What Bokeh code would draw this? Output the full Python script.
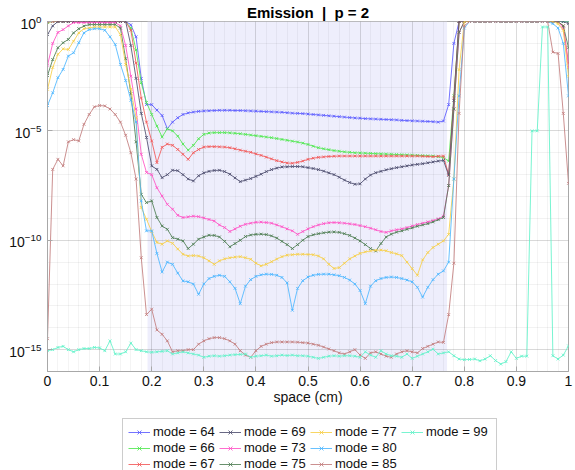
import numpy as np
from bokeh.plotting import figure
from bokeh.layouts import column
from bokeh.models import (BoxAnnotation, FixedTicker, Legend, LegendItem,
                          CustomJSTickFormatter, Range1d)
from bokeh.embed import file_html
from bokeh.resources import INLINE

# ---------------- data (log10 of emission) ----------------
x_vals = np.round(np.linspace(0, 1, 101), 2)

modes = [64, 66, 67, 69, 73, 75, 77, 80, 85, 99]

log_m64 = ([0.0] * 16 +
           [-0.15, -0.7, -2.6, -3.8, -3.8, -4.05, -4.3, -4.9, -4.6, -4.4, -4.25, -4.18, -4.14, -4.11, -4.09] +
           [-4.08, -4.07, -4.06, -4.06, -4.06, -4.07, -4.07, -4.08, -4.09, -4.1] +
           [-4.11, -4.12, -4.13, -4.14, -4.15, -4.17, -4.19, -4.2, -4.21, -4.23] +
           [-4.25, -4.27, -4.29, -4.31, -4.33, -4.35, -4.37, -4.39, -4.41, -4.42] +
           [-4.44, -4.45, -4.46, -4.47, -4.48, -4.49, -4.5, -4.52, -4.53, -4.54] +
           [-4.55, -4.56, -4.57, -4.58, -4.6, -4.55] +
           [-3.8, -1.0] + [0.0] * 22)

log_m66 = ([-0.05] + [0.0] * 15 +
           [-0.3, -1.3, -2.8, -3.7, -4.25, -4.78, -5.28, -4.9, -5.0, -5.24, -5.6, -5.88, -5.66, -5.36, -5.16] +
           [-5.1, -5.08, -5.08, -5.08, -5.09, -5.11, -5.13, -5.16, -5.19, -5.22] +
           [-5.25, -5.28, -5.31, -5.35, -5.39, -5.43, -5.47, -5.51, -5.56, -5.62] +
           [-5.7, -5.77, -5.82, -5.86, -5.9, -5.93, -5.96, -5.98, -6.0, -6.01] +
           [-6.02, -6.03, -6.04, -6.05, -6.06, -6.07, -6.08, -6.09, -6.1, -6.11] +
           [-6.12, -6.13, -6.14, -6.15, -6.18, -6.22] +
           [-6.38, -3.4] + [0.0] * 22)

log_m67 = ([-0.02] + [0.0] * 15 +
           [-0.4, -1.9, -3.5, -4.6, -5.46, -6.45, -5.75, -5.6, -5.66, -5.85, -6.07, -6.3, -6.0, -5.85, -5.74] +
           [-5.72, -5.72, -5.73, -5.74, -5.77, -5.82, -5.88, -5.93, -5.98, -6.05] +
           [-6.12, -6.2, -6.28, -6.36, -6.42, -6.47, -6.48, -6.44, -6.38, -6.3] +
           [-6.25, -6.21, -6.19, -6.17, -6.16, -6.15, -6.15, -6.15, -6.15, -6.15] +
           [-6.15, -6.15, -6.15, -6.15, -6.15, -6.15, -6.15, -6.15, -6.15, -6.15] +
           [-6.15, -6.16, -6.17, -6.18, -6.16, -6.15] +
           [-7.0, -3.5] + [0.0] * 20 + [-0.2, -1.9])

log_m69 = ([-0.6, -0.2] + [0.0] * 14 +
           [-1.1, -2.6, -4.2, -5.3, -6.6, -6.76, -7.14, -7.0, -6.8, -6.82, -7.0, -7.2, -7.29, -7.05, -6.92] +
           [-6.85, -6.81, -6.8, -6.86, -6.98, -7.15, -7.32, -7.25, -7.18, -7.08] +
           [-6.98, -6.86, -6.77, -6.7, -6.65, -6.64, -6.63, -6.63, -6.64, -6.68] +
           [-6.72, -6.77, -6.84, -6.92, -7.0, -7.12, -7.25, -7.36, -7.44, -7.42] +
           [-7.2, -7.02, -6.91, -6.85, -6.78, -6.73, -6.68, -6.64, -6.6, -6.56] +
           [-6.53, -6.5, -6.46, -6.42, -6.38, -6.35] +
           [-7.03, -3.6] + [0.0] * 21 + [-0.1])

log_m73 = ([-2.0, -1.0, -0.5, -0.37, -0.2] + [-0.05] * 9 +
           [-0.2, -1.1, -2.5, -4.0, -6.07, -6.9, -7.0, -7.6, -7.98, -8.36, -8.58, -8.86, -8.96, -8.93, -8.9, -8.92, -8.98] +
           [-9.05, -9.12, -9.3, -9.42, -9.6, -9.48, -9.36, -9.27, -9.22, -9.18] +
           [-9.17, -9.19, -9.22, -9.3, -9.38, -9.48, -9.57, -9.73, -9.6, -9.48] +
           [-9.38, -9.3, -9.24, -9.2, -9.19, -9.2, -9.22, -9.25, -9.28, -9.33] +
           [-9.38, -9.45, -9.52, -9.6, -9.64, -9.57, -9.52, -9.48, -9.42, -9.35] +
           [-9.28, -9.22, -9.16, -9.1, -9.02, -8.9] +
           [-7.5, -4.0, -0.5] + [0.0] * 19 + [-0.3, -2.1])

log_m75 = ([-2.47, -1.74, -1.2, -0.97, -0.82, -0.52, -0.33, -0.21] + [-0.14] * 6 +
           [-0.3, -1.7, -3.3, -5.5, -7.9, -8.28, -8.2, -8.96, -9.35, -9.5, -9.88, -9.95, -10.03, -10.38, -10.18, -9.95, -9.85] +
           [-9.77, -9.78, -9.85, -10.05, -10.3, -10.15, -10.0, -9.83, -9.76, -9.73] +
           [-9.72, -9.74, -9.8, -9.9, -10.05, -10.2, -10.38, -10.2, -10.0, -9.83] +
           [-9.75, -9.7, -9.66, -9.63, -9.62, -9.64, -9.7, -9.78, -9.9, -10.03] +
           [-10.2, -10.38, -10.49, -10.15, -9.85, -9.72, -9.63, -9.57, -9.5, -9.43] +
           [-9.36, -9.3, -9.24, -9.16, -9.06, -8.96] +
           [-7.5, -4.0, -0.5] + [0.0] * 19 + [-0.2, -1.2])

log_m77 = ([-3.1, -2.1, -1.5, -1.25, -1.28, -0.9, -0.52, -0.33, -0.29] + [-0.25] * 5 +
           [-0.6, -1.96, -3.1, -4.4, -8.5, -9.04, -9.6, -10.1, -10.18, -10.03, -10.14, -10.4, -10.64, -10.72, -10.7, -10.72, -10.8] +
           [-10.94, -11.1, -10.94, -10.85, -10.8, -10.77, -10.75, -10.8, -10.87, -11.05] +
           [-11.17, -11.1, -10.98, -10.86, -10.75, -10.68, -10.66, -10.64, -10.64, -10.65] +
           [-10.66, -10.72, -10.85, -11.1, -11.29, -11.25, -11.05, -10.85, -10.72, -10.6] +
           [-10.53, -10.49, -10.46, -10.45, -10.48, -10.56, -10.62, -10.7, -11.0, -11.3] +
           [-11.6, -10.9, -10.56, -10.33, -10.18, -10.03] +
           [-9.73, -7.2, -2.2] + [0.0] * 18 + [-0.1, -0.4, -2.5])

log_m80 = ([-3.84, -3.26, -2.57, -2.19, -1.58, -1.43, -0.97, -0.52, -0.37, -0.33, -0.33, -0.4, -0.7] +
           [-1.05, -1.96, -2.7, -3.6, -4.6, -8.2, -9.57, -9.57, -10.6, -11.45, -11.0, -11.1, -11.5, -11.86, -11.9, -12.0, -12.47, -12.0] +
           [-11.75, -11.65, -11.6, -11.65, -11.9, -12.2, -12.9, -12.1, -11.8, -11.65] +
           [-11.58, -11.55, -11.56, -11.6, -11.7, -11.95, -13.2, -12.2, -11.85, -11.68] +
           [-11.6, -11.56, -11.55, -11.55, -11.58, -11.62, -11.7, -11.82, -12.0, -12.3] +
           [-12.9, -12.1, -11.85, -11.75, -11.7, -11.68, -11.7, -11.75, -11.82, -11.9] +
           [-12.15, -12.6, -12.15, -11.8, -11.55, -11.4] +
           [-11.0, -7.2, -3.4, -0.3] + [0.0] * 16 + [-0.1, -0.3, -1.0, -3.4])

log_m85 = ([-14.5, -6.76, -6.3, -6.6, -5.5, -5.4, -5.46, -4.7, -4.25, -3.9, -3.84, -3.86, -4.0, -4.25, -4.6, -5.2,
            -6.0, -7.2, -10.8, -13.4, -13.15] +
           [-14.1, -14.3, -14.6, -15.1, -15.05, -15.05, -15.0, -15.0, -14.75, -14.6] +
           [-14.5, -14.45, -14.45, -14.5, -14.6, -14.75, -15.05, -15.25, -15.35, -15.05] +
           [-14.85, -14.75, -14.68, -14.65, -14.65, -14.65, -14.65, -14.66, -14.68, -14.7] +
           [-14.75, -14.8, -14.88, -14.97, -15.05, -15.15, -15.2, -15.1, -15.0, -15.25] +
           [-15.4, -15.15, -15.1, -15.2, -15.3, -15.35, -15.2, -15.1, -15.05, -15.1] +
           [-15.15, -14.95, -14.85, -14.75, -14.65, -14.67] +
           [-13.4, -11.05, -4.2, -0.2] + [0.0] * 16 + [-1.4, -1.46, -4.2, -7.4])

log_m99 = [-15.05, -15.0, -14.9, -14.85, -15.0, -15.1, -15.0, -14.95, -14.95, -14.9, -14.92,
           -15.05, -14.6, -15.2, -15.2, -15.1, -14.7, -15.0, -15.05, -15.1, -15.12,
           -15.1, -15.08, -15.05, -15.2, -15.15, -15.1, -15.15, -15.2, -15.25, -15.35,
           -15.3, -15.28, -15.3, -15.28, -15.25, -15.23, -15.22, -15.2, -15.35, -15.3,
           -15.28, -15.25, -15.3, -15.28, -15.25, -15.27, -15.25, -15.28, -15.28, -15.3,
           -15.35, -15.4, -15.35, -15.3, -15.28, -15.3, -15.28, -15.28, -15.3, -15.35,
           -15.1, -15.25, -15.35, -15.05, -15.2, -15.28, -15.3, -15.35, -15.2, -15.4,
           -15.3, -15.2, -15.1, -14.98, -15.2, -15.15, -15.1, -15.28, -15.43, -15.46,
           -15.45, -15.43, -15.51, -15.43, -15.28, -15.5, -15.66, -15.55, -15.1, -15.4,
           -15.3, -15.3, -5.0, -5.0, -0.25, -0.25, -15.28, -15.43, -15.25, -14.83]

series_logs = [log_m64, log_m66, log_m67, log_m69, log_m73, log_m75, log_m77, log_m80, log_m85, log_m99]

# shaded (absorbing) region in space (cm)
shade_left, shade_right = 0.192, 0.767

x_tick_vals = [0.0, 0.1, 0.2, 0.3, 0.4, 0.5, 0.6, 0.7, 0.8, 0.9, 1.0]
y_tick_vals = [1e-15, 1e-10, 1e-5, 1.0]

# ---------------- styling ----------------
colors = ["#5a5aff", "#4fe84f", "#f25757", "#4d4d6e", "#ff52c5",
          "#4e7d52", "#f7cf48", "#4cb6ff", "#c27c7c", "#62f2c9"]
FONT = "Liberation Sans"

p = figure(frame_width=521, frame_height=350, x_range=Range1d(0, 1), y_range=Range1d(1e-16, 1.0),
           y_axis_type="log", output_backend="svg", toolbar_location=None,
           min_border_left=47, min_border_right=7, min_border_top=0, min_border_bottom=42)

p.title.text = "Emission\u00a0 |\u00a0 p = 2"
p.title.align = "center"
p.title.text_font = FONT
p.title.text_font_size = "15px"
p.title.text_font_style = "bold"
p.title.text_color = "#000000"
p.title.standoff = 2

p.add_layout(BoxAnnotation(left=shade_left, right=shade_right, fill_color="#eeeefc",
                           fill_alpha=1.0, line_alpha=0, level="image"))

p.xaxis.ticker = FixedTicker(ticks=x_tick_vals,
                             minor_ticks=[round(i * 0.02, 2) for i in range(51)])
p.xaxis.formatter = CustomJSTickFormatter(code="return Number(tick.toFixed(2)).toString();")
p.yaxis.ticker = FixedTicker(ticks=y_tick_vals,
                             minor_ticks=[10.0 ** (-k) for k in range(17)])

for ax in (p.xaxis, p.yaxis):
    ax.axis_line_color = "#a8a8a8"
    ax.major_tick_line_color = "#a8a8a8"
    ax.major_tick_in = 5
    ax.major_tick_out = 0
    ax.minor_tick_in = 0
    ax.minor_tick_out = 0
    ax.major_label_text_font = FONT
    ax.major_label_text_font_size = "14px"
    ax.major_label_text_color = "#111111"
    ax.axis_label_text_font = FONT
    ax.axis_label_text_font_size = "14px"
    ax.axis_label_text_font_style = "normal"
    ax.axis_label_text_color = "#111111"
p.xaxis.axis_label = "space (cm)"
p.xaxis.axis_label_standoff = 0
p.xaxis.major_label_standoff = 4
p.yaxis.major_label_standoff = 6

p.outline_line_color = "#a8a8a8"
p.xgrid.grid_line_color = "#262626"
p.xgrid.grid_line_alpha = 0.12
p.ygrid.grid_line_color = "#262626"
p.ygrid.grid_line_alpha = 0.12
p.xgrid.minor_grid_line_color = "#262626"
p.xgrid.minor_grid_line_alpha = 0.05
p.ygrid.minor_grid_line_color = "#262626"
p.ygrid.minor_grid_line_alpha = 0.06

# legend lives in its own strip below the chart; its ranges exclude the data,
# so the series there only feed the legend swatches
leg_fig = figure(width=575, height=57, x_range=Range1d(5, 6), y_range=Range1d(5, 6),
                 output_backend="svg", toolbar_location=None, min_border=0,
                 x_axis_location=None, y_axis_location=None)
leg_fig.xgrid.visible = False
leg_fig.ygrid.visible = False
leg_fig.outline_line_color = None

items = []
for mode, logs, col in zip(modes, series_logs, colors):
    yv = 10.0 ** np.array(logs)
    p.line(x_vals, yv, line_color=col, line_width=1, line_alpha=0.85)
    p.scatter(x_vals, yv, marker="x", size=4, line_color=col, line_width=1, line_alpha=0.85)
    l1 = leg_fig.line(x_vals, yv, line_color=col, line_width=1, line_alpha=0.85)
    l2 = leg_fig.scatter(x_vals, yv, marker="x", size=4, line_color=col, line_width=1, line_alpha=0.85)
    items.append(LegendItem(label=f"mode = {mode}", renderers=[l1, l2]))

legend = Legend(items=items, orientation="vertical", nrows=3,
                label_text_font=FONT, label_text_font_size="13px", label_text_color="#111111",
                glyph_width=22, glyph_height=14, label_standoff=3, label_height=14, label_width=65,
                spacing=1, padding=5, margin=0, border_line_color="#9a9a9a",
                background_fill_color="white", background_fill_alpha=1.0,
                location=(75, -7))
leg_fig.add_layout(legend)

layout = column(p, leg_fig, spacing=0)
open("out.html", "w").write(file_html(layout, INLINE))
